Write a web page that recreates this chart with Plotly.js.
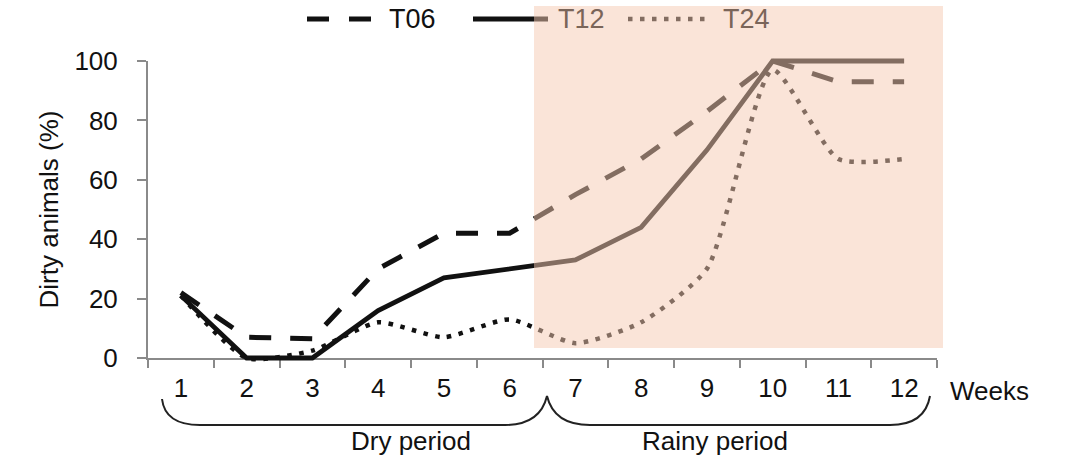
<!DOCTYPE html>
<html>
<head>
<meta charset="utf-8">
<script src="https://cdn.plot.ly/plotly-3.0.1.min.js"></script>
<style>html,body{margin:0;padding:0;background:#fff;}#chart{width:1077px;height:464px;}</style>
</head>
<body>
<div id="chart"></div>
<script>
// ---- data ----
var weeks = ['1','2','3','4','5','6','7','8','9','10','11','12'];
var t06 = [22, 7, 6.5, 30, 42, 42, 55, 67, 83, 100, 93, 93];
var t12 = [21, 0, 0, 16, 27, 30, 33, 44, 70, 100, 100, 100];
var t24 = [21, 0, 2.5, 12, 7, 13, 5, 12, 30, 97, 67, 67];
var seriesNames = ['T06', 'T12', 'T24'];
var periodLabels = ['Dry period', 'Rainy period'];
var xTitle = 'Weeks';
var yTitle = 'Dirty animals (%)';
var yTicks = [0, 20, 40, 60, 80, 100];

// ---- layout helpers (pixel -> paper) ----
var W = 1077, H = 464;
var L = 148, R = 937;          // x extent of plot area
var AT = 61, AB = 358;         // y pixels of 100 and 0 on the visible axis
var PAD = 7;                   // extra room so lines at 0/100 are not clipped
var PT = AT - PAD, PB = AB + PAD;
function X(px){ return (px - L) / (R - L); }
function Y(py){ return (PB - py) / (PB - PT); }
var unitPerPx = 100 / (AB - AT);

var FONT = '"Liberation Sans", Arial, sans-serif';
var BLACK = '#111111';
var BROWN = 'rgb(122,101,89)';
var AX = '#8a8a8a';

var traces = [
  // empty trace so the visible axis pair (x, y) is drawn
  {x: [], y: [], type: 'scatter', mode: 'lines', xaxis: 'x', yaxis: 'y', showlegend: false, hoverinfo: 'skip'},
  {x: weeks, y: t06, name: seriesNames[0], type: 'scatter', mode: 'lines', xaxis: 'x', yaxis: 'y2',
   line: {color: BLACK, width: 5, dash: '22px,19px'}},
  {x: weeks, y: t12, name: seriesNames[1], type: 'scatter', mode: 'lines', xaxis: 'x', yaxis: 'y2',
   line: {color: BLACK, width: 4.8}},
  {x: weeks, y: t24, name: seriesNames[2], type: 'scatter', mode: 'lines', xaxis: 'x', yaxis: 'y2',
   line: {color: BLACK, width: 4.5, dash: '4.5px,7.5px', shape: 'spline', smoothing: 0.6}}
];

function pts(list){
  return list.map(function(p){ return X(p[0]).toFixed(5) + ',' + Y(p[1]).toFixed(5); });
}
var b = pts([[162,399],[165,425],[200,425],[505,425],[540,425],[547,396],[554,425],[590,425],[890,425],[925,425],[930,396]]);
var bracePath = 'M' + b[0] + ' Q' + b[1] + ' ' + b[2] + ' L' + b[3] + ' Q' + b[4] + ' ' + b[5] +
                ' Q' + b[6] + ' ' + b[7] + ' L' + b[8] + ' Q' + b[9] + ' ' + b[10];

var shapes = [
  {type: 'line', xref: 'paper', yref: 'paper', x0: X(307), x1: X(372), y0: Y(19), y1: Y(19),
   line: {color: BLACK, width: 5, dash: '22px,20px'}, layer: 'above'},
  {type: 'line', xref: 'paper', yref: 'paper', x0: X(473), x1: X(548), y0: Y(19), y1: Y(19),
   line: {color: BLACK, width: 5}, layer: 'above'},
  {type: 'line', xref: 'paper', yref: 'paper', x0: X(628), x1: X(706), y0: Y(19), y1: Y(19),
   line: {color: BLACK, width: 4.5, dash: '4.5px,7.5px'}, layer: 'above'},
  {type: 'path', xref: 'paper', yref: 'paper', path: bracePath,
   line: {color: '#222222', width: 2}, layer: 'above'},
  {type: 'rect', xref: 'paper', yref: 'paper', x0: X(534), x1: X(943), y0: Y(348), y1: Y(6),
   fillcolor: 'rgba(245,201,177,0.5)', line: {width: 0}, layer: 'above'}
];

var annotations = [
  {xref: 'paper', yref: 'paper', x: X(387), y: Y(19), xanchor: 'left', yanchor: 'middle',
   text: seriesNames[0], showarrow: false, font: {family: FONT, size: 27, color: BLACK}},
  {xref: 'paper', yref: 'paper', x: X(556), y: Y(19), xanchor: 'left', yanchor: 'middle',
   text: seriesNames[1], showarrow: false, font: {family: FONT, size: 27, color: BROWN}},
  {xref: 'paper', yref: 'paper', x: X(721), y: Y(19), xanchor: 'left', yanchor: 'middle',
   text: seriesNames[2], showarrow: false, font: {family: FONT, size: 27, color: BROWN}},
  {xref: 'paper', yref: 'paper', x: X(411), y: Y(441), xanchor: 'center', yanchor: 'middle',
   text: periodLabels[0], showarrow: false, font: {family: FONT, size: 26, color: BLACK}},
  {xref: 'paper', yref: 'paper', x: X(715), y: Y(441), xanchor: 'center', yanchor: 'middle',
   text: periodLabels[1], showarrow: false, font: {family: FONT, size: 26, color: BLACK}},
  {xref: 'paper', yref: 'paper', x: X(948), y: Y(391), xanchor: 'left', yanchor: 'middle',
   text: xTitle, showarrow: false, font: {family: FONT, size: 26, color: BLACK}}
];

var layout = {
  width: W, height: H,
  margin: {l: L, r: W - R, t: PT, b: H - PB, pad: 0},
  paper_bgcolor: '#ffffff', plot_bgcolor: 'rgba(0,0,0,0)',
  showlegend: false,
  font: {family: FONT, size: 26, color: BLACK},
  xaxis: {
    type: 'category', range: [-0.5, 11.5], tickson: 'boundaries', anchor: 'y',
    ticks: 'outside', ticklen: 8, tickwidth: 2, tickcolor: AX,
    showline: true, linecolor: AX, linewidth: 2,
    showgrid: false, zeroline: false, automargin: false,
    tickfont: {family: FONT, size: 26, color: BLACK}, ticklabelstandoff: 6
  },
  yaxis: {
    domain: [Y(AB), Y(AT)], anchor: 'x',
    range: [0, 100], tickmode: 'array', tickvals: yTicks, ticktext: yTicks.map(String),
    ticks: 'outside', ticklen: 9, tickwidth: 2, tickcolor: AX,
    showline: true, linecolor: AX, linewidth: 2,
    showgrid: false, zeroline: false, automargin: false,
    tickfont: {family: FONT, size: 26, color: BLACK}, ticklabelstandoff: 14,
    title: {text: yTitle, font: {family: FONT, size: 26, color: BLACK}, standoff: 8}
  },
  yaxis2: {
    domain: [0, 1], anchor: 'x', visible: false,
    range: [-PAD * unitPerPx, 100 + PAD * unitPerPx],
    showgrid: false, zeroline: false
  },
  shapes: shapes,
  annotations: annotations
};

Plotly.newPlot('chart', traces, layout, {staticPlot: true, displayModeBar: false});
</script>
</body>
</html>
